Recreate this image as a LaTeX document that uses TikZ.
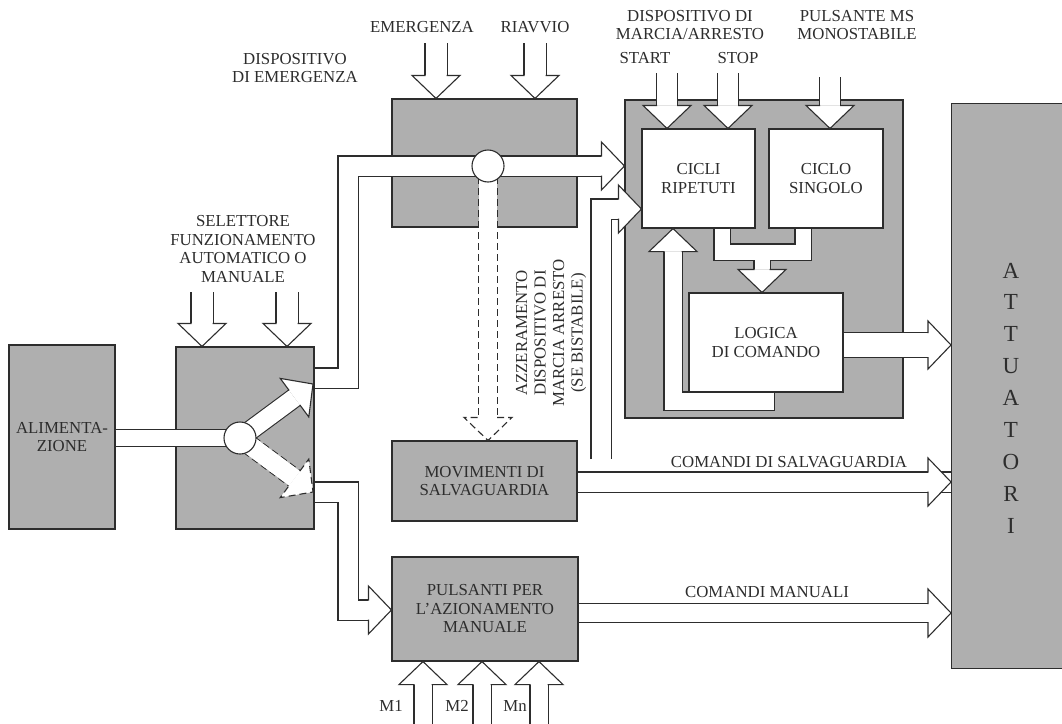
\documentclass[tikz,border=0pt]{standalone}
\usepackage{fontspec}
\setmainfont{Liberation Serif}
\usepackage{tikz}
\usepackage{xcolor}
\definecolor{boxgrey}{RGB}{175,175,175}
\definecolor{inkgrey}{RGB}{45,45,45}
\newcommand{\headlen}{23}
\newcommand{\headwid}{24}
\tikzset{
    block/.style={draw, rectangle, inner sep=0pt, align=center},
    greyblock/.style={block, fill=boxgrey},
    whiteblock/.style={block, fill=white},
    words/.style={align=center, inner sep=0pt},
    pipe/.style={double=white, double distance=#1, line join=miter},
    pipe/.default=19pt,
    pipearrow/.style={pipe=#1, shorten >=\headlen},
    pipearrow/.default=19pt,
    broken/.style={dash pattern=on 7pt off 4pt},
    junction/.style={draw, circle, fill=white, minimum size=32pt, inner sep=0pt},
    pics/head/.style={code={
        \fill[white] (0,0) -- (-\headlen,\headwid) -- (-\headlen,-\headwid) -- cycle;
        \draw (-\headlen,#1) -- (-\headlen,\headwid) -- (0,0) -- (-\headlen,-\headwid) -- (-\headlen,-#1);
    }},
}

\begin{document}
\begin{tikzpicture}[x=1pt, y=1pt, line width=1.1pt, color=inkgrey,
        font=\fontsize{16.8}{18.5}\selectfont]
    \useasboundingbox (0,0) rectangle (1062,-723);
    \fill[white] (0,0) rectangle (1062,-723);

    % blocchi
    \node[greyblock, minimum width=106, minimum height=184] (alim) at (62,-437) {ALIMENTA-\\ZIONE};
    \node[greyblock, minimum width=138, minimum height=182] (selettore) at (245,-438) {};
    \node[greyblock, minimum width=185, minimum height=128] (emerg) at (484.5,-163) {};
    \node[greyblock, minimum width=185, minimum height=80] (movim) at (484.5,-481) {MOVIMENTI DI\\SALVAGUARDIA};
    \node[greyblock, minimum width=186, minimum height=104] (pulsanti) at (485,-609) {PULSANTI PER\\L'AZIONAMENTO\\MANUALE};
    \node[greyblock, minimum width=278, minimum height=318] (controllo) at (764,-259) {};
    \node[whiteblock, minimum width=113, minimum height=99] (ciclir) at (698.5,-178.5) {CICLI\\RIPETUTI};
    \node[whiteblock, minimum width=114, minimum height=99] (ciclos) at (826,-178.5) {CICLO\\SINGOLO};
    \node[whiteblock, minimum width=154, minimum height=99] (logica) at (766,-342.5) {LOGICA\\DI COMANDO};
    \node[greyblock, minimum width=124, minimum height=565, anchor=north west] (attuatori) at (951,-103) {};
    \node[words, font=\fontsize{23}{31.9}\selectfont] (lattuatori) at (1011,-398) {A\\T\\T\\U\\A\\T\\O\\R\\I};

    % scritte
    \node[words] (lselettore) at (243,-249) {SELETTORE\\FUNZIONAMENTO\\AUTOMATICO O\\MANUALE};
    \node[words] (ldispemerg) at (295,-68) {DISPOSITIVO\\DI EMERGENZA};
    \node[words] (lemerg) at (422,-27) {EMERGENZA};
    \node[words] (lriavvio) at (535,-27) {RIAVVIO};
    \node[words] (lmarcia) at (690,-25) {DISPOSITIVO DI\\MARCIA/ARRESTO};
    \node[words] (lstart) at (645,-58) {START};
    \node[words] (lstop) at (738,-58) {STOP};
    \node[words] (lpulsms) at (857,-25) {PULSANTE MS\\MONOSTABILE};
    \node[words, rotate=90] (lazzer) at (551,-333) {AZZERAMENTO\\DISPOSITIVO DI\\MARCIA ARRESTO\\(SE BISTABILE)};
    \node[words] (lcomsalv) at (789,-462) {COMANDI DI SALVAGUARDIA};
    \node[words] (lcomman) at (767,-592) {COMANDI MANUALI};
    \node[words] (lm1) at (391,-706) {M1};
    \node[words] (lm2) at (457,-706) {M2};
    \node[words] (lmn) at (515,-706) {Mn};

    \coordinate (selsw) at (240,-438);
    \coordinate (emsw) at (488,-166);
    \coordinate (selauto) at (313,-384);
    \coordinate (selman) at (313,-492);
    \coordinate (inemerg) at (436,-43);
    \coordinate (inriavvio) at (535,-43);
    \coordinate (insel1) at (202,-292);
    \coordinate (insel2) at (287,-292);
    \coordinate (instart) at (667,-73);
    \coordinate (instop) at (728,-73);
    \coordinate (inms) at (830,-77);
    \coordinate (inm1) at (423,-740);
    \coordinate (inm2) at (482,-740);
    \coordinate (inmn) at (539,-740);

    % condotti
    \draw[pipe=16pt] (alim.east |- selsw) -- (selsw);
    \draw[pipearrow=18pt] (selsw) -- (selauto);
    \draw[pipearrow=18pt, broken] (selsw) -- (selman);
    \draw[white, line width=18pt, shorten >=\headlen] (selsw) -- (selman);
    \draw[pipearrow] (selettore.east |- 0,-378) -| (348,-166) -- (controllo.west |- emsw);
    \draw[pipearrow] (selettore.east |- 0,-492) -| (348,-610) -- (pulsanti.west |- 0,-610);
    \draw[pipearrow=18pt, broken] (emsw) -- (emsw |- movim.north);
    \draw[white, line width=18pt, shorten >=\headlen] (emsw) -- (emsw |- movim.north);
    \draw[pipe, shorten <=\headlen, shorten >=\headlen] (attuatori.west |- 0,-482) -- (movim.east |- 0,-482)
        (601,-482) |- (ciclir.west |- 0,-209);
    \draw[pipe=15pt, shorten >=\headlen] (ciclir.south -| 722,0) |- (803,-252) -- (ciclos.south -| 803,0)
        (762,-252) -- (logica.north -| 762,0);
    \draw[pipearrow=17pt] (logica.south -| 765,0) |- (673,-401) -- (ciclir.south -| 673,0);
    \draw[pipearrow=24pt] (logica.east |- 0,-345) -- (attuatori.west |- 0,-345);
    \draw[pipearrow=18pt] (pulsanti.east |- 0,-613) -- (attuatori.west |- 0,-613);
    \draw[pipearrow=21pt] (inemerg) -- (inemerg |- emerg.north);
    \draw[pipearrow=21pt] (inriavvio) -- (inriavvio |- emerg.north);
    \draw[pipearrow=21pt] (insel1) -- (insel1 |- selettore.north);
    \draw[pipearrow=21pt] (insel2) -- (insel2 |- selettore.north);
    \draw[pipearrow=20pt] (instart) -- (instart |- ciclir.north);
    \draw[pipearrow=20pt] (instop) -- (instop |- ciclir.north);
    \draw[pipearrow=20pt] (inms) -- (inms |- ciclos.north);
    \draw[pipearrow=17pt] (inm1) -- (inm1 |- pulsanti.south);
    \draw[pipearrow=17pt] (inm2) -- (inm2 |- pulsanti.south);
    \draw[pipearrow=17pt] (inmn) -- (inmn |- pulsanti.south);

    \node[junction] (jsel) at (selsw) {};
    \node[junction] (jemerg) at (emsw) {};

    % punte
    \pic[rotate=36.5] at (selauto) {head=9};
    \pic[rotate=-36.5, broken] at (selman) {head=9};
    \pic[rotate=-90, broken] at (emsw |- movim.north) {head=9};
    \pic at (controllo.west |- emsw) {head=9.5};
    \pic at (pulsanti.west |- 0,-610) {head=9.5};
    \pic at (attuatori.west |- 0,-482) {head=9.5};
    \pic at (ciclir.west |- 0,-209) {head=9.5};
    \pic[rotate=-90] at (logica.north -| 762,0) {head=7.5};
    \pic[rotate=90] at (ciclir.south -| 673,0) {head=8.5};
    \pic at (attuatori.west |- 0,-345) {head=12};
    \pic at (attuatori.west |- 0,-613) {head=9};
    \pic[rotate=-90] at (inemerg |- emerg.north) {head=10.5};
    \pic[rotate=-90] at (inriavvio |- emerg.north) {head=10.5};
    \pic[rotate=-90] at (insel1 |- selettore.north) {head=10.5};
    \pic[rotate=-90] at (insel2 |- selettore.north) {head=10.5};
    \pic[rotate=-90] at (instart |- ciclir.north) {head=10};
    \pic[rotate=-90] at (instop |- ciclir.north) {head=10};
    \pic[rotate=-90] at (inms |- ciclos.north) {head=10};
    \pic[rotate=90] at (inm1 |- pulsanti.south) {head=8.5};
    \pic[rotate=90] at (inm2 |- pulsanti.south) {head=8.5};
    \pic[rotate=90] at (inmn |- pulsanti.south) {head=8.5};
\end{tikzpicture}
\end{document}
